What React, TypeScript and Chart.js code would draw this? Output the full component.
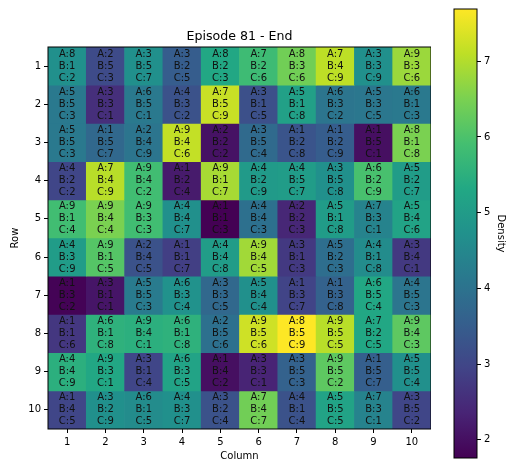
import React, { useEffect, useRef } from 'react';
import { Chart, registerables } from 'chart.js';

Chart.register(...registerables);

const TITLE = 'Episode 81 - End';
const COLUMNS = ['1', '2', '3', '4', '5', '6', '7', '8', '9', '10'];
const ROWS = [1, 2, 3, 4, 5, 6, 7, 8, 9, 10];

const A_VALUES: number[][] = [
  [8, 2, 3, 3, 8, 7, 8, 7, 3, 9],
  [5, 3, 6, 4, 7, 3, 5, 6, 5, 6],
  [5, 1, 2, 9, 2, 3, 1, 1, 1, 8],
  [4, 7, 9, 1, 9, 4, 4, 3, 6, 5],
  [9, 9, 9, 4, 1, 4, 2, 5, 7, 5],
  [4, 9, 2, 1, 4, 9, 3, 5, 4, 3],
  [1, 3, 5, 6, 3, 5, 1, 1, 6, 4],
  [1, 6, 9, 6, 2, 9, 8, 9, 7, 9],
  [4, 9, 3, 6, 1, 3, 3, 9, 1, 5],
  [1, 3, 6, 4, 3, 7, 4, 5, 7, 3],
];

const B_VALUES: number[][] = [
  [1, 5, 5, 2, 2, 2, 3, 4, 3, 3],
  [5, 3, 5, 3, 5, 1, 1, 3, 3, 1],
  [5, 5, 4, 4, 2, 5, 2, 2, 5, 1],
  [2, 4, 4, 2, 1, 2, 5, 5, 2, 2],
  [1, 4, 3, 4, 1, 4, 2, 1, 3, 4],
  [3, 1, 4, 1, 4, 4, 1, 2, 1, 4],
  [3, 1, 5, 3, 3, 4, 3, 3, 5, 5],
  [1, 1, 4, 1, 5, 5, 5, 5, 2, 4],
  [4, 3, 1, 3, 4, 3, 5, 5, 5, 5],
  [4, 2, 1, 3, 2, 4, 1, 5, 3, 5],
];

const C_VALUES: number[][] = [
  [2, 3, 7, 5, 3, 6, 6, 9, 9, 6],
  [3, 1, 1, 2, 9, 5, 8, 2, 5, 3],
  [3, 7, 9, 6, 2, 4, 8, 9, 1, 8],
  [2, 9, 2, 4, 7, 9, 7, 8, 9, 7],
  [4, 4, 3, 7, 3, 3, 3, 8, 1, 6],
  [9, 5, 5, 7, 8, 5, 3, 3, 8, 1],
  [2, 1, 3, 4, 5, 4, 7, 8, 4, 3],
  [6, 8, 1, 8, 6, 6, 9, 5, 5, 3],
  [9, 1, 4, 5, 2, 1, 3, 2, 7, 4],
  [5, 9, 5, 7, 4, 7, 4, 5, 1, 2],
];

const DENSITY: number[][] = [
  [4.7, 3.1, 4.7, 3.5, 5.3, 5.8, 6.4, 7.1, 4.7, 6.8],
  [4.15, 2.55, 4.15, 3.25, 7.2, 3.2, 5.1, 4.05, 4.1, 4.15],
  [4.15, 3.75, 4.05, 7.15, 2.05, 3.8, 3.3, 3.5, 2.0, 6.5],
  [3.0, 7.05, 5.85, 2.2, 6.9, 4.95, 5.0, 4.7, 5.95, 5.0],
  [5.85, 6.5, 5.85, 4.7, 1.76, 3.95, 2.4, 5.0, 4.4, 5.2],
  [5.0, 6.1, 3.25, 2.85, 5.0, 6.85, 2.75, 3.9, 4.6, 2.75],
  [1.8, 2.1, 4.2, 4.75, 3.75, 4.7, 2.95, 3.6, 5.3, 4.05],
  [2.7, 5.55, 5.5, 5.55, 3.95, 7.25, 7.69, 7.05, 5.3, 6.2],
  [5.5, 5.3, 3.0, 5.2, 2.0, 2.35, 3.6, 6.2, 3.55, 4.7],
  [3.0, 4.7, 4.6, 4.7, 3.25, 6.4, 3.25, 5.2, 4.4, 3.0],
];

const DENSITY_MIN = 1.76;
const DENSITY_MAX = 7.69;
const COLORBAR_TICKS = [2, 3, 4, 5, 6, 7];

const VIRIDIS = [
  '#440154', '#482475', '#414487', '#355f8d', '#2a788e', '#21918c',
  '#22a884', '#44bf70', '#7ad151', '#bddf26', '#fde725',
];

const FONT = 'DejaVu Sans';

function hexToRgb(h: string): number[] {
  const n = parseInt(h.slice(1), 16);
  return [(n >> 16) & 255, (n >> 8) & 255, n & 255];
}

function viridis(t: number): string {
  const tt = Math.max(0, Math.min(1, t));
  const pos = tt * (VIRIDIS.length - 1);
  const i = Math.min(Math.floor(pos), VIRIDIS.length - 2);
  const f = pos - i;
  const a = hexToRgb(VIRIDIS[i]);
  const b = hexToRgb(VIRIDIS[i + 1]);
  const c = a.map((v, k) => Math.round(v + (b[k] - v) * f));
  return `rgb(${c[0]},${c[1]},${c[2]})`;
}

const framePlugin = {
  id: 'frame',
  afterDraw(chart: any) {
    const { ctx, chartArea } = chart;
    ctx.save();
    ctx.strokeStyle = '#000';
    ctx.lineWidth = 1;
    ctx.strokeRect(chartArea.left, chartArea.top, chartArea.right - chartArea.left, chartArea.bottom - chartArea.top);
    ctx.restore();
  },
};

const titlePlugin = {
  id: 'centeredTitle',
  afterDraw(chart: any) {
    const { ctx, chartArea } = chart;
    ctx.save();
    ctx.font = `12.6px "${FONT}"`;
    ctx.fillStyle = '#000';
    ctx.textAlign = 'center';
    ctx.textBaseline = 'middle';
    ctx.fillText(TITLE, (chartArea.left + chartArea.right) / 2, chartArea.top - 10);
    ctx.restore();
  },
};

const cellTextPlugin = {
  id: 'cellText',
  afterDatasetsDraw(chart: any) {
    const { ctx } = chart;
    ctx.save();
    ctx.font = `10px "${FONT}"`;
    ctx.fillStyle = '#111';
    ctx.textAlign = 'center';
    ctx.textBaseline = 'middle';
    chart.data.datasets.forEach((_ds: any, i: number) => {
      const meta = chart.getDatasetMeta(i);
      meta.data.forEach((bar: any, j: number) => {
        const p = bar.getProps(['x', 'y', 'base'], true);
        const cy = (p.y + p.base) / 2;
        ctx.fillText(`A:${A_VALUES[i][j]}`, p.x, cy - 12);
        ctx.fillText(`B:${B_VALUES[i][j]}`, p.x, cy);
        ctx.fillText(`C:${C_VALUES[i][j]}`, p.x, cy + 12);
      });
    });
    ctx.restore();
  },
};

export default function App() {
  const mainRef = useRef<HTMLCanvasElement>(null);
  const cbRef = useRef<HTMLCanvasElement>(null);

  useEffect(() => {
    document.body.style.margin = '0';
    Chart.defaults.font.family = FONT;
    Chart.defaults.color = '#000';

    const datasets = ROWS.map((r, i) => ({
      label: `Row ${r}`,
      data: COLUMNS.map(() => [r - 0.5, r + 0.5]),
      backgroundColor: DENSITY[i].map((v) => viridis((v - DENSITY_MIN) / (DENSITY_MAX - DENSITY_MIN))),
      grouped: false,
      barPercentage: 1,
      categoryPercentage: 1,
      borderWidth: 0,
    }));

    const main = new Chart(mainRef.current!, {
      type: 'bar',
      data: { labels: COLUMNS, datasets: datasets as any },
      plugins: [cellTextPlugin, framePlugin, titlePlugin],
      options: {
        animation: false,
        responsive: false,
        layout: { padding: { left: 0, right: 0, top: 47, bottom: 0 } },
        plugins: {
          legend: { display: false },
          tooltip: { enabled: false },
          title: { display: false },
        },
        scales: {
          x: {
            type: 'category',
            offset: true,
            grid: { offset: false, drawOnChartArea: false, drawTicks: true, tickLength: 4, tickColor: '#000' },
            border: { display: false },
            ticks: { color: '#000', font: { size: 10 }, padding: 3, autoSkip: false, maxRotation: 0 },
            title: { display: true, text: 'Column', color: '#000', font: { size: 10 }, padding: { top: 0, bottom: 5 } },
            afterFit: (s: any) => { s.height = 38; },
          } as any,
          y: {
            type: 'linear',
            reverse: true,
            min: 0.5,
            max: 10.5,
            grid: { drawOnChartArea: false, drawTicks: true, tickLength: 4, tickColor: '#000' },
            border: { display: false },
            ticks: { autoSkip: false, color: '#000', font: { size: 10 }, padding: 3 },
            afterBuildTicks: (s: any) => { s.ticks = ROWS.map((v) => ({ value: v })); },
            title: { display: true, text: 'Row', color: '#000', font: { size: 10 }, padding: { top: 9, bottom: 0 } },
            afterFit: (s: any) => { s.width = 48; },
          } as any,
        },
      },
    });

    const cb = new Chart(cbRef.current!, {
      type: 'bar',
      data: {
        labels: ['Density'],
        datasets: [
          {
            label: 'Density',
            data: [[DENSITY_MIN, DENSITY_MAX]] as any,
            backgroundColor: (ctx: any) => {
              const { chartArea, ctx: c } = ctx.chart;
              if (!chartArea) return 'transparent';
              const g = c.createLinearGradient(0, chartArea.bottom, 0, chartArea.top);
              VIRIDIS.forEach((col, k) => g.addColorStop(k / (VIRIDIS.length - 1), col));
              return g;
            },
            borderWidth: 0,
            barPercentage: 1,
            categoryPercentage: 1,
          },
        ],
      },
      plugins: [framePlugin],
      options: {
        animation: false,
        responsive: false,
        layout: { padding: { left: 14, right: 0, top: 2, bottom: 2 } },
        plugins: { legend: { display: false }, tooltip: { enabled: false } },
        scales: {
          x: { display: false },
          y: {
            type: 'linear',
            position: 'right',
            min: DENSITY_MIN,
            max: DENSITY_MAX,
            grid: { drawOnChartArea: false, drawTicks: true, tickLength: 4, tickColor: '#000' },
            border: { display: false },
            ticks: { color: '#000', font: { size: 10 }, padding: 3 },
            afterBuildTicks: (s: any) => { s.ticks = COLORBAR_TICKS.map((v) => ({ value: v })); },
            title: { display: true, text: 'Density', color: '#000', font: { size: 10 }, padding: { top: 1, bottom: 0 } },
            afterFit: (s: any) => { s.width = 31; },
          } as any,
        },
      },
    });

    return () => {
      main.destroy();
      cb.destroy();
    };
  }, []);

  return (
    <div style={{ position: 'relative', width: 508, height: 467, background: '#fff' }}>
      <canvas ref={mainRef} width={431} height={467} style={{ position: 'absolute', left: 0, top: 0, width: 431, height: 467 }} />
      <canvas ref={cbRef} width={68} height={467} style={{ position: 'absolute', left: 440, top: 0, width: 68, height: 467 }} />
    </div>
  );
}
